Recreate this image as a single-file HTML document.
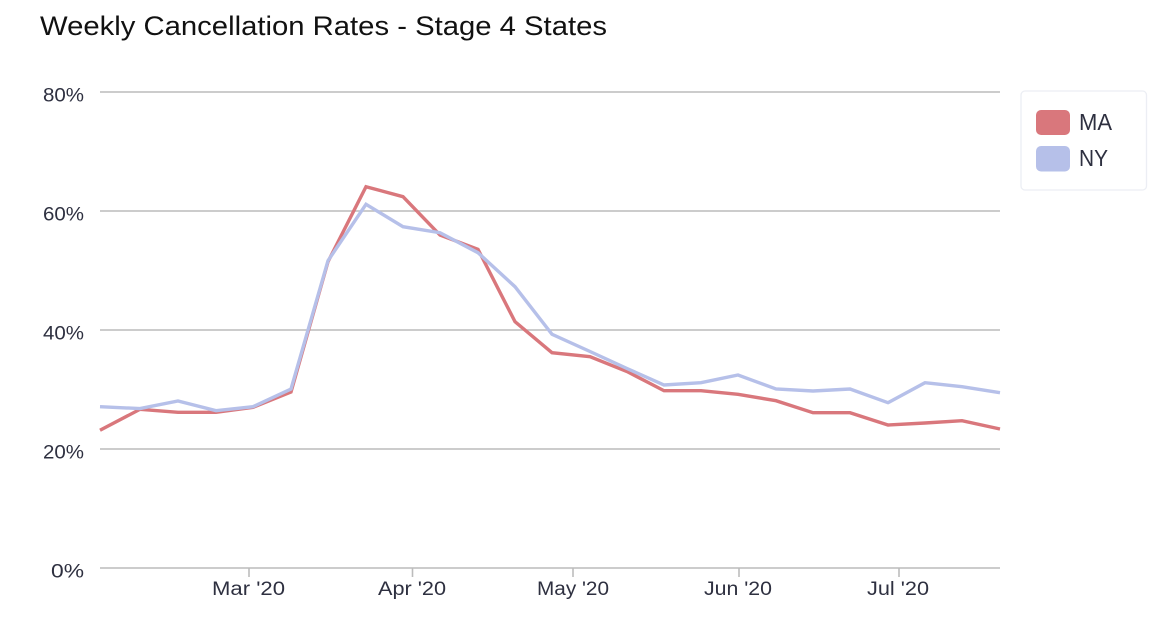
<!DOCTYPE html>
<html>
<head>
<meta charset="utf-8">
<style>
  html, body { margin: 0; padding: 0; background: #ffffff; }
  body { width: 1170px; height: 638px; overflow: hidden; }
  svg { display: block; }
  text { font-family: "Liberation Sans", "DejaVu Sans", sans-serif; }
</style>
</head>
<body>
<svg width="1170" height="638" viewBox="0 0 1170 638" xmlns="http://www.w3.org/2000/svg">
  <rect width="1170" height="638" fill="#ffffff"/>
  <!-- Title -->
  <text x="40" y="35" font-size="27" fill="#111111" textLength="567" lengthAdjust="spacingAndGlyphs">Weekly Cancellation Rates - Stage 4 States</text>

  <!-- Gridlines -->
  <g stroke="#bcbcbc" stroke-width="1.6">
    <line x1="100" y1="92" x2="1000" y2="92"/>
    <line x1="100" y1="211" x2="1000" y2="211"/>
    <line x1="100" y1="330" x2="1000" y2="330"/>
    <line x1="100" y1="449" x2="1000" y2="449"/>
    <line x1="100" y1="568" x2="1000" y2="568"/>
  </g>
  <!-- X ticks -->
  <g stroke="#bcbcbc" stroke-width="1.6">
    <line x1="249" y1="568" x2="249" y2="577"/>
    <line x1="412.5" y1="568" x2="412.5" y2="577"/>
    <line x1="573" y1="568" x2="573" y2="577"/>
    <line x1="739" y1="568" x2="739" y2="577"/>
    <line x1="899" y1="568" x2="899" y2="577"/>
  </g>

  <!-- Y labels -->
  <g font-size="19" fill="#2e3040" text-anchor="end">
    <text x="84" y="101.5" textLength="41" lengthAdjust="spacingAndGlyphs">80%</text>
    <text x="84" y="220.5" textLength="41" lengthAdjust="spacingAndGlyphs">60%</text>
    <text x="84" y="339.5" textLength="41" lengthAdjust="spacingAndGlyphs">40%</text>
    <text x="84" y="458.5" textLength="41" lengthAdjust="spacingAndGlyphs">20%</text>
    <text x="84" y="577.5" textLength="33" lengthAdjust="spacingAndGlyphs">0%</text>
  </g>

  <!-- X labels -->
  <g font-size="19" fill="#2e3040">
    <text x="212" y="595" textLength="73" lengthAdjust="spacingAndGlyphs">Mar '20</text>
    <text x="378" y="595" textLength="68" lengthAdjust="spacingAndGlyphs">Apr '20</text>
    <text x="537" y="595" textLength="72" lengthAdjust="spacingAndGlyphs">May '20</text>
    <text x="704" y="595" textLength="68" lengthAdjust="spacingAndGlyphs">Jun '20</text>
    <text x="867" y="595" textLength="62" lengthAdjust="spacingAndGlyphs">Jul '20</text>
  </g>

  <!-- Series -->
  <polyline fill="none" stroke="#d9777c" stroke-width="3.4" stroke-linejoin="miter" stroke-miterlimit="3"
    points="100,430.3 140,409.3 178,412.3 216,412.3 253,407.3 291,392 328,261.7 366,186.7 403,196.7 440,235 478,249.3 515,321.7 552,352.7 590,356.7 627,371.5 664,390.7 701,390.7 738,394.3 776,400.7 813,412.7 850,412.7 888,425 925,423 962,420.7 1000,429"/>
  <polyline fill="none" stroke="#b6c0e9" stroke-width="3.4" stroke-linejoin="miter" stroke-miterlimit="3"
    points="100,406.7 140,408.6 178,401 216,410.7 253,406.7 291,389 328,260.7 366,204.3 403,226.7 440,232.7 478,252.7 515,286.7 552,334.3 590,351.5 627,368.5 664,385 701,382.7 738,375 776,389 813,391 850,389 888,402.7 925,382.7 962,386.7 1000,392.7"/>

  <!-- Legend -->
  <rect x="1021" y="91" width="125.5" height="99" rx="4" ry="4" fill="#ffffff" stroke="#eceef4" stroke-width="1.3"/>
  <rect x="1036" y="110" width="34" height="25" rx="5" ry="5" fill="#d9777c"/>
  <rect x="1036" y="146" width="34" height="25.5" rx="5" ry="5" fill="#b6c0e9"/>
  <g font-size="23" fill="#2e3040">
    <text x="1079" y="130" textLength="33" lengthAdjust="spacingAndGlyphs">MA</text>
    <text x="1079" y="166" textLength="29" lengthAdjust="spacingAndGlyphs">NY</text>
  </g>
</svg>
</body>
</html>
